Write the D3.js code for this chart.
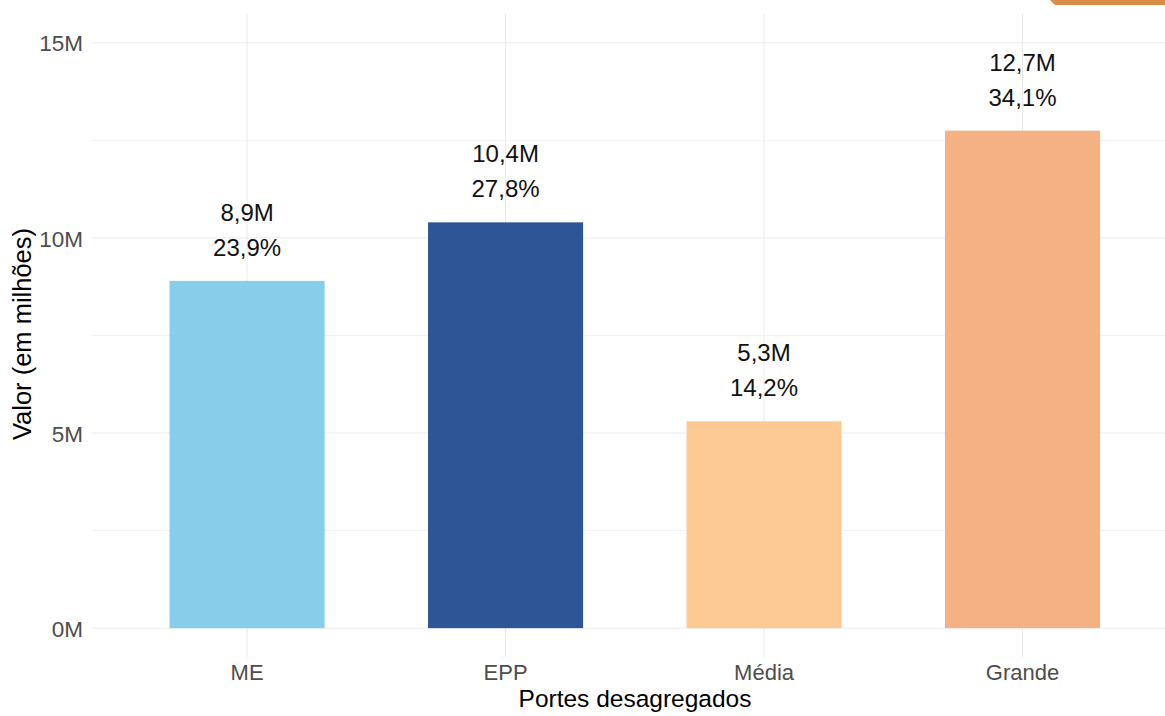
<!DOCTYPE html>
<html><head><meta charset="utf-8">
<script src="https://cdn.jsdelivr.net/npm/d3@7"></script>
<style>body{margin:0;background:#fff;} svg{display:block;font-family:"Liberation Sans",Arial,sans-serif;}</style>
</head><body>
<svg id="c" width="1165" height="716"></svg>
<script>
const categories = ["ME", "EPP", "Média", "Grande"];
const values = [8.9, 10.4, 5.3, 12.75];
const valueLabels = ["8,9M", "10,4M", "5,3M", "12,7M"];
const pctLabels = ["23,9%", "27,8%", "14,2%", "34,1%"];
const colors = ["#87ceeb", "#2e5596", "#fdca96", "#f4b183"];
const yTicks = [0, 5, 10, 15];
const yMinor = [2.5, 7.5, 12.5];

const svg = d3.select("#c");
const panel = {left: 92, right: 1177.6, top: 14, bottom: 657};

const x = d3.scaleBand().domain(categories)
  .range([panel.left, panel.right]).paddingInner(0.4).paddingOuter(0.3);
const y = d3.scaleLinear().domain([-0.74, 15.74]).range([panel.bottom, panel.top]);

svg.append("path").attr("d", "M1050,0 L1165,0 L1165,5 L1055,5 Z").attr("fill", "#d98c47");

const g = svg.append("g");
g.selectAll(".minor").data(yMinor).join("line")
  .attr("x1", panel.left).attr("x2", 1165)
  .attr("y1", d => y(d)).attr("y2", d => y(d))
  .attr("stroke", "#f2f2f2").attr("stroke-width", 1);
g.selectAll(".major").data(yTicks).join("line")
  .attr("x1", panel.left).attr("x2", 1165)
  .attr("y1", d => y(d)).attr("y2", d => y(d))
  .attr("stroke", "#ebebeb").attr("stroke-width", 1);
g.selectAll(".vgrid").data(categories).join("line")
  .attr("x1", d => x(d) + x.bandwidth()/2).attr("x2", d => x(d) + x.bandwidth()/2)
  .attr("y1", panel.top).attr("y2", panel.bottom)
  .attr("stroke", "#ebebeb").attr("stroke-width", 1);

g.selectAll("rect.bar").data(categories).join("rect")
  .attr("x", d => x(d)).attr("width", x.bandwidth())
  .attr("y", (d, i) => y(values[i])).attr("height", (d, i) => y(0) - y(values[i]))
  .attr("fill", (d, i) => colors[i]);

g.selectAll("text.v").data(categories).join("text")
  .attr("x", d => x(d) + x.bandwidth()/2)
  .attr("y", (d, i) => y(values[i]) - 60)
  .attr("text-anchor", "middle").attr("font-size", 24).attr("fill", "#111")
  .text((d, i) => valueLabels[i]);
g.selectAll("text.p").data(categories).join("text")
  .attr("x", d => x(d) + x.bandwidth()/2)
  .attr("y", (d, i) => y(values[i]) - 25)
  .attr("text-anchor", "middle").attr("font-size", 24).attr("fill", "#111")
  .text((d, i) => pctLabels[i]);

const yAxis = d3.axisLeft(y).tickValues(yTicks).tickSize(0).tickPadding(9).tickFormat(d => d + "M");
const ya = svg.append("g").attr("transform", `translate(${panel.left},0)`).call(yAxis);
ya.select(".domain").remove();
ya.selectAll("text").attr("font-size", 22.5).attr("fill", "#4d4d4d").attr("dy", "0.36em")
  .attr("font-family", "Liberation Sans, Arial, sans-serif");

const xAxis = d3.axisBottom(x).tickSize(0);
const xa = svg.append("g").attr("transform", `translate(0,${panel.bottom})`).call(xAxis);
xa.select(".domain").remove();
xa.selectAll("text").attr("font-size", 22).attr("fill", "#4d4d4d").attr("y", 23).attr("dy", 0)
  .attr("font-family", "Liberation Sans, Arial, sans-serif");

svg.append("text").attr("x", 635).attr("y", 707).attr("text-anchor", "middle")
  .attr("font-size", 24.5).attr("fill", "#000").text("Portes desagregados");
svg.append("text").attr("transform", "translate(31,334) rotate(-90)").attr("text-anchor", "middle")
  .attr("font-size", 25.5).attr("fill", "#000").text("Valor (em milhões)");
</script>
</body></html>
